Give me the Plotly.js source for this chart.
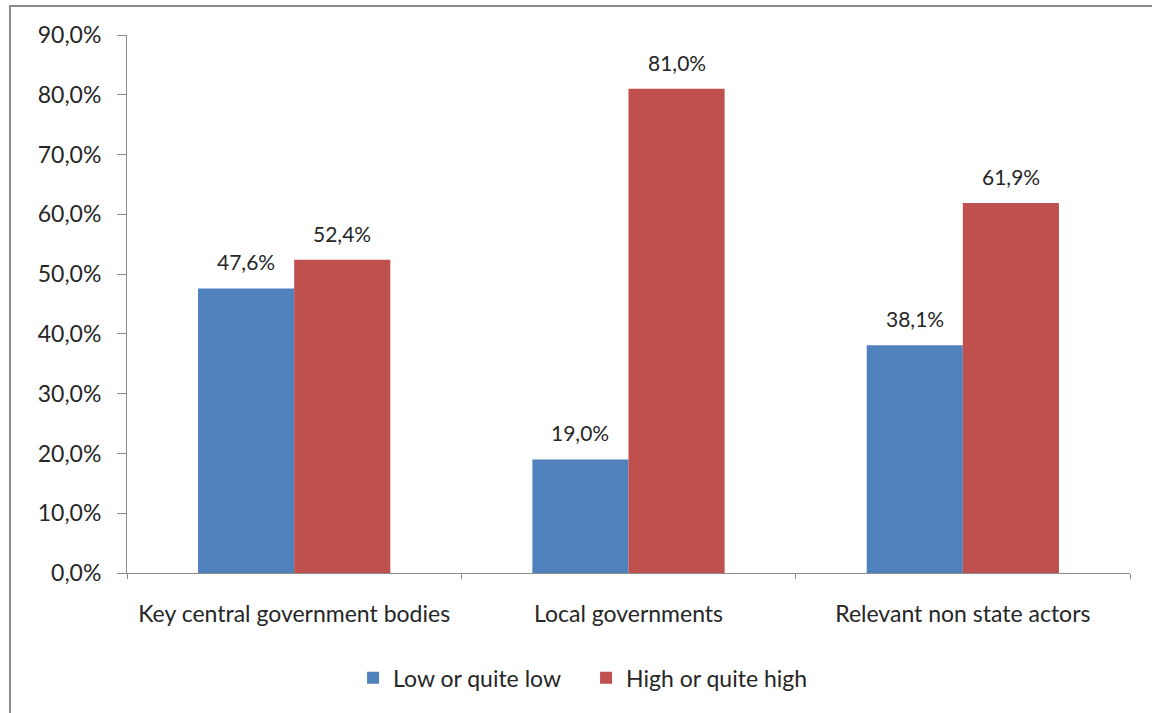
<!DOCTYPE html>
<html>
<head>
<meta charset="utf-8">
<script src="https://cdn.plot.ly/plotly-3.0.1.min.js"></script>
<style>
html,body{margin:0;padding:0;background:#fff;}
#chart{width:1152px;height:713px;position:relative;}
#frame{position:absolute;left:9px;top:5px;width:1143px;height:708px;border-left:2px solid #8a8a8a;border-top:2px solid #8a8a8a;pointer-events:none;}
</style>
</head>
<body>
<div id="chart"></div>
<div id="frame"></div>
<script>
const categories = ["Key central government bodies", "Local governments", "Relevant non state actors"];
const lowValues = [47.6, 19.0, 38.1];
const highValues = [52.4, 81.0, 61.9];
const seriesNames = ["Low or quite low", "High or quite high"];
const yTicks = [0, 10, 20, 30, 40, 50, 60, 70, 80, 90];

const FONT = "Lato, 'Open Sans', sans-serif";
const TXT = "#262626";
const colors = ["#4F81BD", "#C0504D"];
const bargap = 0.425;
const half = (1 - bargap) / 4;

const traces = [lowValues, highValues].map((vals, i) => ({
  type: "bar",
  name: seriesNames[i],
  x: categories,
  y: vals,
  marker: {color: colors[i], line: {width: 0}},
  hoverinfo: "skip"
}));

const annotations = [];
[lowValues, highValues].forEach((vals, s) => {
  vals.forEach((v, i) => {
    annotations.push({
      x: i + (s === 0 ? -half : half),
      y: v,
      xref: "x", yref: "y",
      text: v.toFixed(1).replace(".", ",") + "%",
      showarrow: false,
      yanchor: "bottom",
      yshift: 12,
      font: {family: FONT, size: 21, color: TXT}
    });
  });
});

const layout = {
  width: 1152, height: 713,
  margin: {l: 127, r: 22, t: 35, b: 140},
  paper_bgcolor: "#fff", plot_bgcolor: "#fff",
  separators: ", ",
  barmode: "group",
  bargap: bargap,
  bargroupgap: 0,
  showlegend: true,
  legend: {
    orientation: "h", x: 0.4577, xanchor: "center", y: -0.195, yanchor: "middle",
    font: {family: FONT, size: 23, color: TXT},
    itemwidth: 30, tracegroupgap: 0,
    entrywidth: 188, entrywidthmode: "pixels"
  },
  xaxis: {
    type: "category",
    showline: true, linecolor: "#8c8c8c", linewidth: 1,
    ticks: "outside", tickson: "boundaries", ticklen: 5, tickcolor: "#8c8c8c",
    showgrid: false, zeroline: false,
    ticklabelstandoff: 20,
    tickfont: {family: FONT, size: 23, color: TXT}
  },
  yaxis: {
    range: [0, 90], tickvals: yTicks,
    ticktext: yTicks.map(t => t.toFixed(1).replace(".", ",") + "%"),
    showline: true, linecolor: "#8c8c8c", linewidth: 1,
    ticks: "outside", ticklen: 9, tickcolor: "#8c8c8c",
    showgrid: false, zeroline: false,
    ticklabelstandoff: 11,
    tickfont: {family: FONT, size: 23, color: TXT}
  },
  annotations: annotations
};

Plotly.newPlot("chart", traces, layout, {displayModeBar: false, staticPlot: true});
</script>
</body>
</html>
